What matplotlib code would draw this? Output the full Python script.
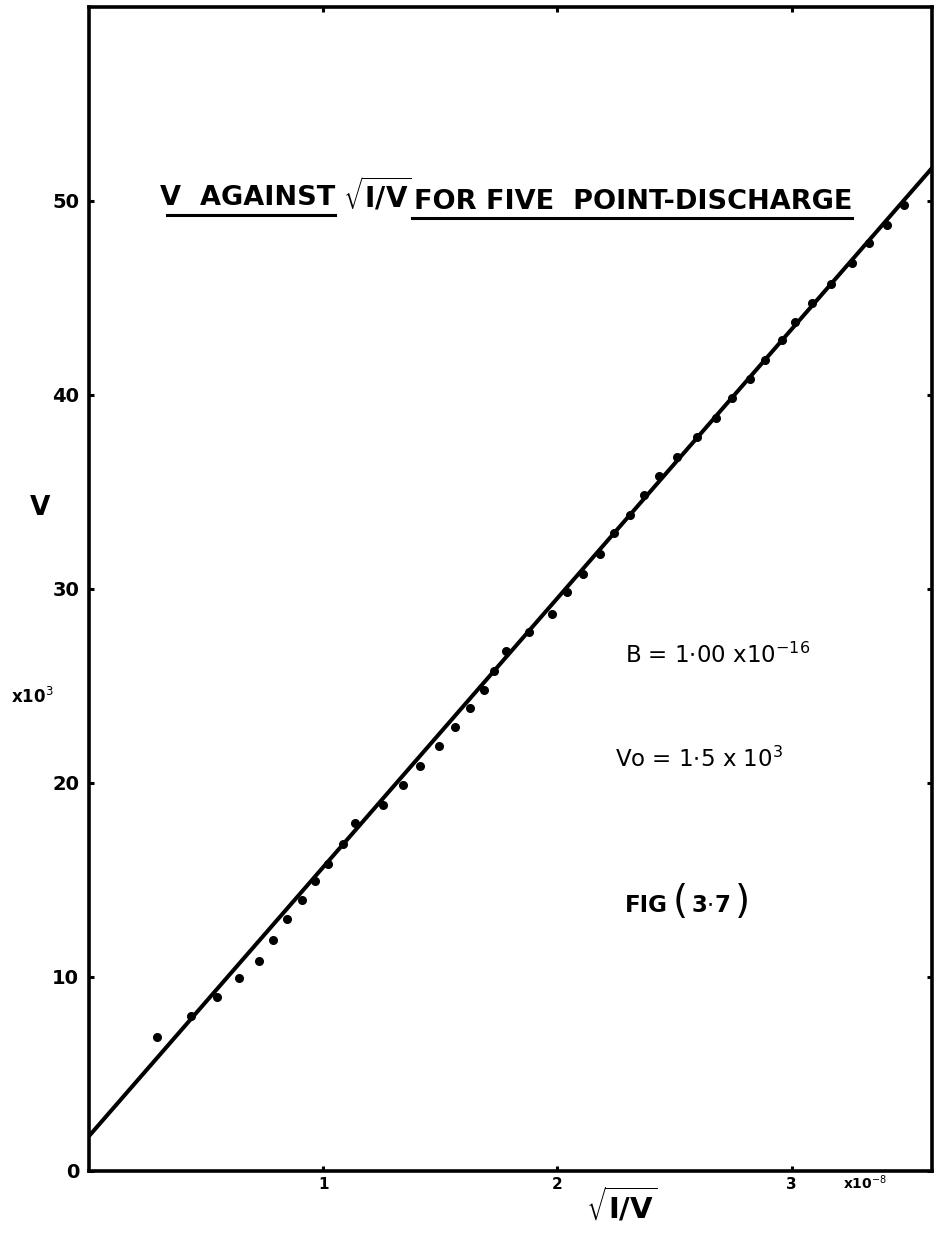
import matplotlib
matplotlib.use("Agg")
import matplotlib.pyplot as plt
from matplotlib.lines import Line2D

plt.rcParams['font.family'] = ['DejaVu Sans']
plt.rcParams['mathtext.fontset'] = 'dejavusans'

# ---- data ----
sqrt_iv = [0.291, 0.434, 0.547, 0.640, 0.728, 0.785, 0.846, 0.910, 0.967, 1.020,
           1.083, 1.137, 1.254, 1.339, 1.414, 1.493, 1.564, 1.625, 1.687, 1.731,
           1.780, 1.881, 1.976, 2.040, 2.111, 2.182, 2.243, 2.310, 2.371, 2.435,
           2.513, 2.598, 2.679, 2.746, 2.822, 2.886, 2.961, 3.014, 3.087, 3.170,
           3.258, 3.333, 3.409, 3.480]
volts = [6.92, 8.00, 8.95, 9.94, 10.85, 11.93, 12.98, 13.95, 14.93, 15.81,
         16.84, 17.92, 18.86, 19.88, 20.87, 21.90, 22.90, 23.88, 24.78, 25.76,
         26.79, 27.77, 28.73, 29.83, 30.78, 31.82, 32.89, 33.83, 34.86, 35.84,
         36.80, 37.86, 38.81, 39.82, 40.82, 41.78, 42.81, 43.78, 44.76, 45.73,
         46.79, 47.82, 48.76, 49.79]
fit_x = [0.0, 3.6]
fit_v = [1.8, 51.7]

x_ticks = [1, 2, 3]
x_ticklabels = ['1', '2', '3']
y_ticks = [0, 10, 20, 30, 40, 50]
y_ticklabels = ['0', '10', '20', '30', '40', '50']

W, H = 938, 1239
fig = plt.figure(figsize=(W / 100, H / 100), dpi=100)
fig.patch.set_facecolor('white')


def fx(px):
    return px / W


def fy(py):
    return 1 - py / H


ax = fig.add_axes([fx(89), fy(1171), fx(932) - fx(89), fy(7) - fy(1171)])
ax.set_xlim(0, 3.6)
ax.set_ylim(0, 60)

ax.plot(fit_x, fit_v, color='black', lw=2.9, solid_capstyle='butt', zorder=2)
ax.plot(sqrt_iv, volts, 'o', color='black', ms=5.5, zorder=3)

for s in ax.spines.values():
    s.set_linewidth(2.6)
    s.set_color('black')

ax.set_xticks(x_ticks)
ax.set_xticklabels(x_ticklabels, fontsize=11, fontweight='bold')
ax.set_yticks(y_ticks)
ax.set_yticklabels(y_ticklabels, fontsize=14, fontweight='bold')
ax.tick_params(axis='both', direction='in', length=3.5, width=2.2,
               top=True, right=True, color='black')
ax.tick_params(axis='x', pad=4)
ax.tick_params(axis='y', pad=7)

# axis labels
fig.text(fx(40), fy(508), 'V', fontsize=19, fontweight='bold',
         ha='center', va='center')
fig.text(fx(32), fy(697), r'x10$^{3}$', fontsize=12, fontweight='bold',
         ha='center', va='center')
fig.text(fx(622), fy(1205), r'$\sqrt{\mathbf{I/V}}$', fontsize=21,
         ha='center', va='center')
fig.text(fx(865), fy(1183), r'x10$^{-8}$', fontsize=10, fontweight='bold',
         ha='center', va='center')

# title
fig.text(fx(160), fy(205), 'V  AGAINST', fontsize=19.5, fontweight='bold',
         ha='left', va='baseline')
fig.text(fx(377), fy(207), r'$\sqrt{\mathbf{I/V}}$', fontsize=20,
         ha='center', va='baseline')
fig.text(fx(414), fy(209), 'FOR FIVE  POINT-DISCHARGE', fontsize=19.5,
         fontweight='bold', ha='left', va='baseline')
fig.add_artist(Line2D([fx(167), fx(335)], [fy(215), fy(215)],
                      transform=fig.transFigure, color='black', lw=2.2))
fig.add_artist(Line2D([fx(412), fx(852)], [fy(218), fy(218)],
                      transform=fig.transFigure, color='black', lw=2.2))

# annotations
fig.text(fx(625), fy(663), r'B = 1$\cdot$00 x10$^{-16}$', fontsize=16.5,
         ha='left', va='baseline')
fig.text(fx(615), fy(767), r'Vo = 1$\cdot$5 x 10$^{3}$', fontsize=16.5,
         ha='left', va='baseline')
fig.text(fx(625), fy(912), 'FIG', fontsize=16.5, fontweight='bold',
         ha='left', va='baseline')
fig.text(fx(680), fy(902), '(', fontsize=28, ha='center', va='center')
fig.text(fx(711), fy(912), r'3$\cdot$7', fontsize=16.5, fontweight='bold',
         ha='center', va='baseline')
fig.text(fx(742), fy(902), ')', fontsize=28, ha='center', va='center')

fig.savefig('out.png', dpi=100, facecolor='white')
